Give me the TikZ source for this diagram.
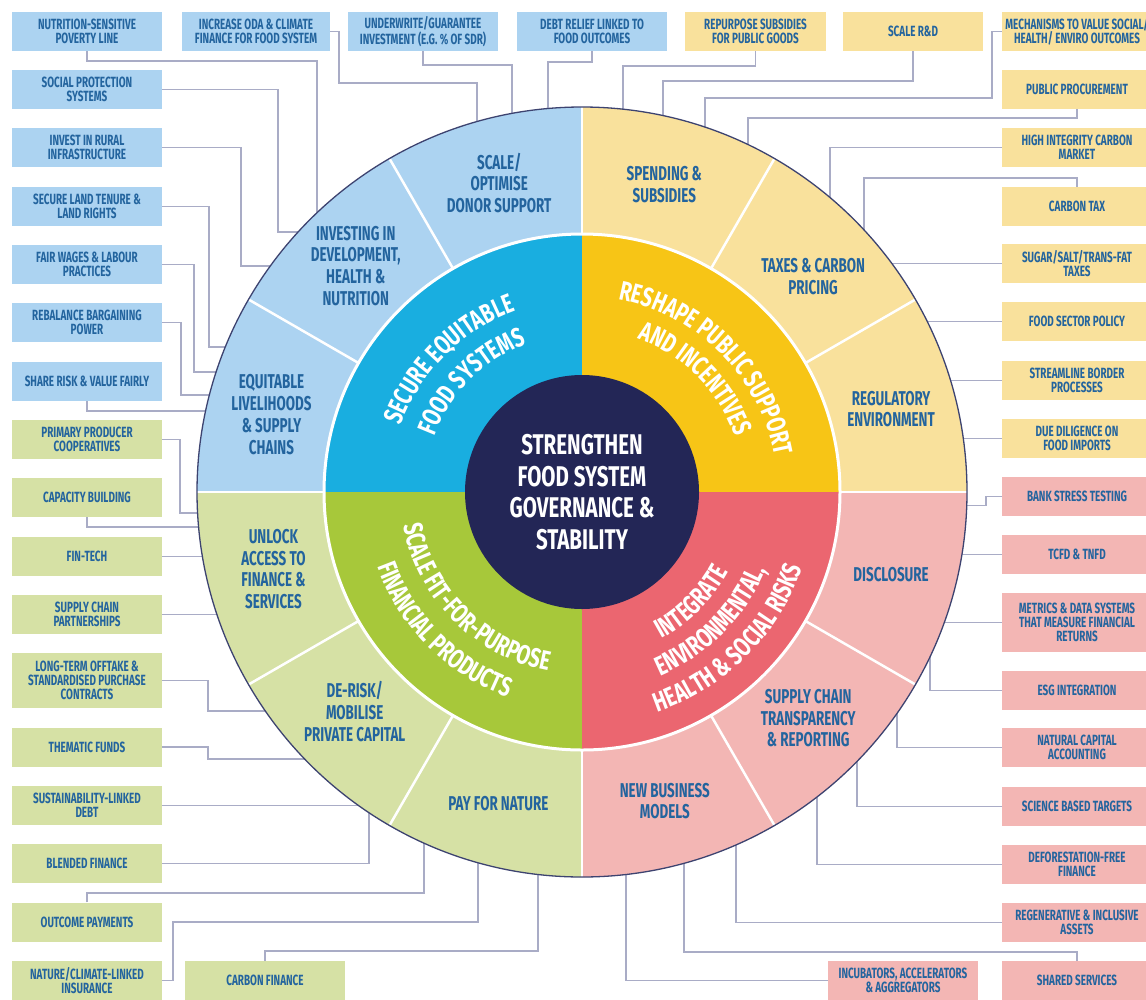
\documentclass[tikz,border=0pt]{standalone}
\usepackage{fontspec}
\usetikzlibrary{decorations.text}
\newfontfamily\dinf{Fira Sans}[FakeStretch=0.72]
\newfontfamily\dinb{Fira Sans}[FakeStretch=0.67]
\newcommand\fntBox{\dinb\bfseries\fontsize{14.8}{14.3}\selectfont}
\newcommand\fntOut{\dinb\bfseries\fontsize{20}{21.7}\selectfont}
\newcommand\fntCtr{\dinf\bfseries\fontsize{28.5}{31.5}\selectfont}
\newcommand\fntQ{\dinf\bfseries\fontsize{27}{30}\selectfont}
\definecolor{lblue}{HTML}{ACD3F1}
\definecolor{lyel}{HTML}{F9E19C}
\definecolor{lgreen}{HTML}{D6E1A5}
\definecolor{lpink}{HTML}{F3B6B4}
\definecolor{qblue}{HTML}{19AEE0}
\definecolor{qyel}{HTML}{F7C516}
\definecolor{qgreen}{HTML}{A7C83A}
\definecolor{qred}{HTML}{EB6670}
\definecolor{navy}{HTML}{232656}
\definecolor{rimclr}{HTML}{3D4370}
\definecolor{tblue}{HTML}{23649E}
\definecolor{lineclr}{HTML}{A9ACC6}
\begin{document}
\begin{tikzpicture}[x=1pt,y=-1pt,
  box/.style={minimum width=150pt, minimum height=39pt, inner sep=1pt, align=center, font=\fntBox, text=tblue},
  bbox/.style={box, fill=lblue},
  ybox/.style={box, fill=lyel},
  gbox/.style={box, fill=lgreen},
  pbox/.style={box, fill=lpink},
  conn/.style={draw=lineclr, line width=1.4pt},
  olab/.style={align=center, font=\fntOut, text=tblue, inner sep=0pt},
  qtext/.style={decorate, decoration={text along path, text align=center, text color=white}}
]
\useasboundingbox (0,0) rectangle (1146,999);
\fill[white] (0,0) rectangle (1146,999);

% left column
\node[bbox] (l1) at (87,31.5) {NUTRITION-SENSITIVE\\POVERTY LINE};
\node[bbox] (l2) at (87,89.5) {SOCIAL PROTECTION\\SYSTEMS};
\node[bbox] (l3) at (87,147.5) {INVEST IN RURAL\\INFRASTRUCTURE};
\node[bbox] (l4) at (87,206.5) {SECURE LAND TENURE \&\\LAND RIGHTS};
\node[bbox] (l5) at (87,264.5) {FAIR WAGES \& LABOUR\\PRACTICES};
\node[bbox] (l6) at (87,322.5) {REBALANCE BARGAINING\\POWER};
\node[bbox] (l7) at (87,381.5) {SHARE RISK \& VALUE FAIRLY};
\node[gbox] (l8) at (87,439.5) {PRIMARY PRODUCER\\COOPERATIVES};
\node[gbox] (l9) at (87,497.5) {CAPACITY BUILDING};
\node[gbox] (l10) at (87,556.5) {FIN-TECH};
\node[gbox] (l11) at (87,614.5) {SUPPLY CHAIN\\PARTNERSHIPS};
\node[gbox, minimum height=55pt] (l12) at (87,680.5) {LONG-TERM OFFTAKE \&\\STANDARDISED PURCHASE\\CONTRACTS};
\node[gbox] (l13) at (87,747) {THEMATIC FUNDS};
\node[gbox] (l14) at (87,805.5) {SUSTAINABILITY-LINKED\\DEBT};
\node[gbox] (l15) at (87,863.5) {BLENDED FINANCE};
\node[gbox] (l16) at (87,922) {OUTCOME PAYMENTS};
\node[gbox] (l17) at (87,980.5) {NATURE/CLIMATE-LINKED\\INSURANCE};
\node[gbox, minimum width=160pt] (cf) at (265,980.5) {CARBON FINANCE};

% top row
\node[bbox, minimum width=148pt] (t2) at (256,31.5) {INCREASE ODA \& CLIMATE\\FINANCE FOR FOOD SYSTEM};
\node[bbox] (t3) at (423,31.5) {UNDERWRITE/GUARANTEE\\INVESTMENT (E.G. \% OF SDR)};
\node[bbox] (t4) at (592,31.5) {DEBT RELIEF LINKED TO\\FOOD OUTCOMES};
\node[ybox, minimum width=141pt] (t5) at (755.5,31.5) {REPURPOSE SUBSIDIES\\FOR PUBLIC GOODS};
\node[ybox, minimum width=140pt] (t6) at (913,31.5) {SCALE R\&D};

% right column
\node[ybox] (r1) at (1077,31.5) {MECHANISMS TO VALUE SOCIAL/\\HEALTH/ ENVIRO OUTCOMES};
\node[ybox] (r2) at (1077,89.5) {PUBLIC PROCUREMENT};
\node[ybox] (r3) at (1077,147.5) {HIGH INTEGRITY CARBON\\MARKET};
\node[ybox] (r4) at (1077,206.5) {CARBON TAX};
\node[ybox] (r5) at (1077,263.5) {SUGAR/SALT/TRANS-FAT\\TAXES};
\node[ybox] (r6) at (1077,321.5) {FOOD SECTOR POLICY};
\node[ybox] (r7) at (1077,380.5) {STREAMLINE BORDER\\PROCESSES};
\node[ybox] (r8) at (1077,438.5) {DUE DILIGENCE ON\\FOOD IMPORTS};
\node[pbox] (r9) at (1077,496.5) {BANK STRESS TESTING};
\node[pbox] (r10) at (1077,554.5) {TCFD \& TNFD};
\node[pbox, minimum height=59pt] (r11) at (1077,622.5) {METRICS \& DATA SYSTEMS\\THAT MEASURE FINANCIAL\\RETURNS};
\node[pbox] (r12) at (1077,690.5) {ESG INTEGRATION};
\node[pbox] (r13) at (1077,747.5) {NATURAL CAPITAL\\ACCOUNTING};
\node[pbox] (r14) at (1077,806.5) {SCIENCE BASED TARGETS};
\node[pbox] (r15) at (1077,864.5) {DEFORESTATION-FREE\\FINANCE};
\node[pbox] (r16) at (1077,922.5) {REGENERATIVE \& INCLUSIVE\\ASSETS};
\node[pbox] (r17) at (1077,980.5) {SHARED SERVICES};
\node[pbox] (inc) at (903,980.5) {INCUBATORS, ACCELERATORS\\\& AGGREGATORS};

% connectors (ends hidden under the wheel)
\draw[conn] (l1.south) |- (317,61) -- (317,250);
\draw[conn] (l2.east) -| (278,232) -- (330,232);
\draw[conn] (l3.east) -| (241,266) -- (300,266);
\draw[conn] (l4.east) -| (209,347) -- (260,347);
\draw[conn] (l5.east) -| (194,372) -- (260,372);
\draw[conn] (l6.east) -| (181,395) -- (260,395);
\draw[conn] (l7.south) |- (260,411);
\draw[conn] (l8.east) -| (180,513) -- (260,513);
\draw[conn] (l9.south) |- (260,527);
\draw[conn] (l10.east) -- ++(120,0);
\draw[conn] (l11.east) -- ++(120,0);
\draw[conn] (l12.east) -| (208,711) -- (300,711);
\draw[conn] (l13.east) -| (208,759) -- (350,759);
\draw[conn] (l14.east) -- ++(250,0);
\draw[conn] (l15.east) -| (369,780);
\draw[conn] (l16.north) |- (424,893) -- (424,800);
\draw[conn] (l17.east) -| (173,922) -- (478,922) -- (478,800);
\draw[conn] (cf.north) |- (538,951) -- (538,800);
\draw[conn] (t2.east) -| (339,83) -- (477,83) -- (477,150);
\draw[conn] (t3.south) |- (512,65) -- (512,150);
\draw[conn] (t4.south) |- (548,62) -- (548,150);
\draw[conn] (t5.south) |- (623,66) -- (623,150);
\draw[conn] (t6.south) |- (663,81) -- (663,150);
\draw[conn] (r1.west) -| (992,98) -- (705,98) -- (705,170);
\draw[conn] (r2.south) |- (748,118) -- (748,180);
\draw[conn] (r3.west) -| (830,250);
\draw[conn] (r4.north) |- (864,178) -- (864,270);
\draw[conn] (r5.west) -- ++(-150,0);
\draw[conn] (r6.west) -- ++(-150,0);
\draw[conn] (r7.west) -- ++(-150,0);
\draw[conn] (r8.west) -- ++(-150,0);
\draw[conn] (r9.west) -- ++(-16,0) -- ++(0,9) -- ++(-100,0);
\draw[conn] (r10.west) -- ++(-150,0);
\draw[conn] (r11.west) -- ++(-150,0);
\draw[conn] (r12.west) -| (930,620);
\draw[conn] (r13.west) -| (897,680);
\draw[conn] (r14.west) -| (857,720);
\draw[conn] (r15.west) -| (817,760);
\draw[conn] (r16.west) -| (736,800);
\draw[conn] (r17.north) |- (684,952) -- (684,800);
\draw[conn] (inc.west) -| (626,800);

% the wheel
\begin{scope}[shift={(582pt,-492pt)}, x=1pt, y=1pt]
  \foreach \a/\c in {90/lblue,120/lblue,150/lblue,0/lyel,30/lyel,60/lyel,180/lgreen,210/lgreen,240/lgreen,270/lpink,300/lpink,330/lpink}
    \fill[\c] (0,0) -- (\a:385) arc[start angle=\a, end angle=\a+30, radius=385] -- cycle;
  \foreach \a in {0,30,...,330}
    \draw[white, line width=2.5pt] (0,0) -- (\a:385);
  \draw[rimclr, line width=1.3pt] (0,0) circle[radius=385];
  \fill[qblue] (0,0) -- (90:258) arc[start angle=90, end angle=180, radius=258] -- cycle;
  \fill[qyel] (0,0) -- (0:258) arc[start angle=0, end angle=90, radius=258] -- cycle;
  \fill[qgreen] (0,0) -- (180:258) arc[start angle=180, end angle=270, radius=258] -- cycle;
  \fill[qred] (0,0) -- (270:258) arc[start angle=270, end angle=360, radius=258] -- cycle;
  \draw[white, line width=3pt] (0,0) circle[radius=258];
  \node[circle, fill=navy, minimum size=234pt, inner sep=0pt, text=white, align=center, font=\fntCtr] (hub) at (0,0) {STRENGTHEN\\FOOD SYSTEM\\GOVERNANCE \&\\STABILITY};

  % outer segment labels
  \node[olab] (o1) at (105:320) {SCALE/\\OPTIMISE\\DONOR SUPPORT};
  \node[olab] (o2) at (135:320) {INVESTING IN\\DEVELOPMENT,\\HEALTH \&\\NUTRITION};
  \node[olab] (o3) at (166:320) {EQUITABLE\\LIVELIHOODS\\\& SUPPLY\\CHAINS};
  \node[olab] (o4) at (75:318) {SPENDING \&\\SUBSIDIES};
  \node[olab] (o5) at (43:316) {TAXES \& CARBON\\PRICING};
  \node[olab] (o6) at (15:320) {REGULATORY\\ENVIRONMENT};
  \node[olab] (o7) at (-15:320) {DISCLOSURE};
  \node[olab] (o8) at (-45:320) {SUPPLY CHAIN\\TRANSPARENCY\\\& REPORTING};
  \node[olab] (o9) at (-75:320) {NEW BUSINESS\\MODELS};
  \node[olab] (o10) at (-105:323) {PAY FOR NATURE};
  \node[olab] (o11) at (-136:316) {DE-RISK/\\MOBILISE\\PRIVATE CAPITAL};
  \node[olab] (o12) at (-166:318) {UNLOCK\\ACCESS TO\\FINANCE \&\\SERVICES};

  % curved quadrant titles
  \path[qtext, decoration={text={|\fntQ|SECURE EQUITABLE}}] (180:193) arc[start angle=180, end angle=90, radius=193];
  \path[qtext, decoration={text={|\fntQ|FOOD SYSTEMS}}] (180:158) arc[start angle=180, end angle=90, radius=158];
  \path[qtext, decoration={text={|\fntQ|RESHAPE PUBLIC SUPPORT}}] (90:196) arc[start angle=90, end angle=0, radius=196];
  \path[qtext, decoration={text={|\fntQ|AND INCENTIVES}}] (90:163) arc[start angle=90, end angle=0, radius=163];
  \path[qtext, decoration={text={|\fntQ|SCALE FIT-FOR-PURPOSE}}] (180:182) arc[start angle=180, end angle=270, radius=182];
  \path[qtext, decoration={text={|\fntQ|FINANCIAL PRODUCTS}}] (180:218) arc[start angle=180, end angle=270, radius=218];
  \path[qtext, decoration={text={|\fntQ|INTEGRATE}}] (270:167) arc[start angle=270, end angle=360, radius=167];
  \path[qtext, decoration={text={|\fntQ|ENVIRONMENTAL,}}] (270:200) arc[start angle=270, end angle=360, radius=200];
  \path[qtext, decoration={text={|\fntQ|HEALTH {\&} SOCIAL RISKS}}] (270:233) arc[start angle=270, end angle=360, radius=233];
\end{scope}
\end{tikzpicture}
\end{document}
